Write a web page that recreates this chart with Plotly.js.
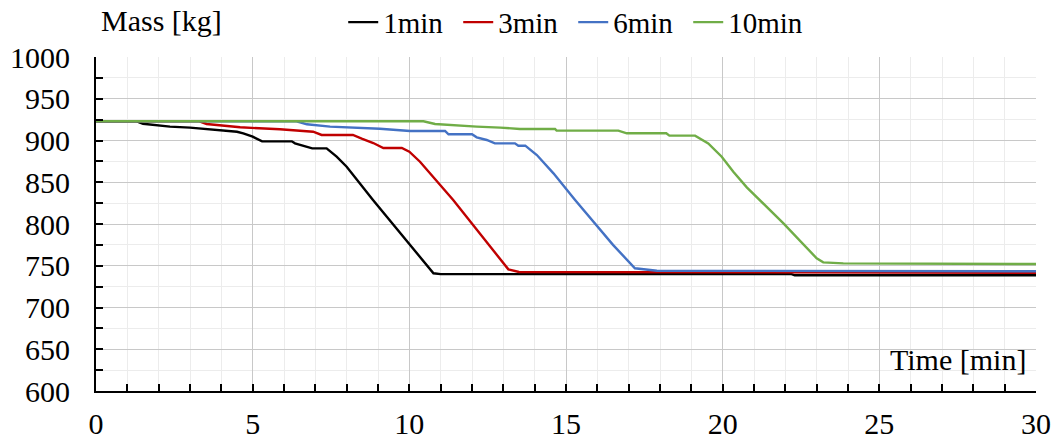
<!DOCTYPE html>
<html>
<head>
<meta charset="utf-8">
<script src="https://cdn.plot.ly/plotly-3.0.1.min.js"></script>
<style>html,body{margin:0;padding:0;background:#fff;}#chart{width:1057px;height:445px;}</style>
</head>
<body>
<div id="chart"></div>
<script>
// Series names
const seriesNames = ["1min", "3min", "6min", "10min"];
// Time [min] and Mass [kg] per series
const t1min = [0, 1.3, 1.5, 2.36, 3.0, 3.96, 4.5, 4.7, 5.0, 5.3, 6.25, 6.35, 6.9, 7.36, 7.68, 8.0, 8.84, 10.77, 11.0, 22.2, 22.3, 30];
const m1min = [923, 923, 920, 916.6, 915.4, 912.6, 910.5, 908.6, 904.6, 899, 899, 896.6, 890.6, 890.6, 880.6, 868.6, 828.7, 741, 740, 740, 738.6, 738.6];
const t3min = [0, 3.3, 3.53, 4.6, 5.87, 6.93, 7.2, 8.2, 8.5, 8.85, 9.17, 9.76, 10.0, 10.34, 11.4, 13.16, 13.5, 20, 30];
const m3min = [923, 923, 919.8, 915.8, 913.4, 910.5, 906.6, 906.6, 902, 897, 891, 891, 886.6, 874.6, 828.7, 745.7, 742.6, 742, 741.6];
const t6min = [0, 6.4, 6.73, 7.47, 9.06, 10.02, 11.14, 11.25, 12.0, 12.15, 12.47, 12.73, 13.37, 13.48, 13.7, 14.07, 14.6, 15.29, 16.5, 17.2, 17.9, 30];
const m6min = [923, 923, 919.4, 916.6, 914, 911.4, 911.4, 907.4, 907.4, 903.8, 900.6, 896.6, 896.6, 893.8, 893.8, 882.6, 860.7, 828.7, 775, 747, 744, 743.4];
const t10min = [0, 10.45, 10.82, 11.62, 12.15, 12.9, 13.53, 14.65, 14.7, 16.67, 16.94, 18.2, 18.3, 19.12, 19.54, 19.97, 20.34, 20.77, 21.19, 21.94, 23.0, 23.21, 23.85, 30];
const m10min = [923, 923, 919.8, 917.4, 916.6, 915.4, 913.8, 913.8, 911.8, 911.8, 908.6, 908.6, 905.8, 905.8, 896.6, 880.6, 862.6, 843.9, 828.7, 800.8, 758.9, 754.1, 752.9, 752.1];
// Axis tick values
const xTicks = [0, 5, 10, 15, 20, 25, 30];
const yTicks = [600, 650, 700, 750, 800, 850, 900, 950, 1000];

const colors = ["#000000", "#C00000", "#4472C4", "#70AD47"];
const xs = [t1min, t3min, t6min, t10min];
const ys = [m1min, m3min, m6min, m10min];

const font = "Liberation Serif";

const traces = seriesNames.map((n, i) => ({
  type: "scatter", mode: "lines", name: n,
  x: xs[i], y: ys[i],
  line: {color: colors[i], width: 2.4},
  hoverinfo: "skip"
}));

const layout = {
  width: 1057, height: 445,
  margin: {l: 96, r: 21, t: 57, b: 54, autoexpand: false},
  paper_bgcolor: "#fff", plot_bgcolor: "#fff",
  font: {family: font, size: 30, color: "#000"},
  showlegend: true,
  legend: {orientation: "h", x: 0.263, y: 0.95, xref: "paper", yref: "container", xanchor: "left", yanchor: "middle",
           font: {family: font, size: 29, color: "#000"}, itemwidth: 30, entrywidth: 70, entrywidthmode: "pixels",
           tracegroupgap: 0, bgcolor: "rgba(0,0,0,0)"},
  xaxis: {
    range: [0, 30], tickvals: xTicks, ticktext: xTicks.map(String),
    showgrid: true, gridcolor: "#c8c8c8", gridwidth: 1,
    ticks: "inside", ticklen: 7, tickwidth: 2, tickcolor: "#000",
    showline: true, linecolor: "#000", linewidth: 2,
    zeroline: false, ticklabelstandoff: 5,
    minor: {dtick: 1, showgrid: true, gridcolor: "#ececec", gridwidth: 1, ticks: "inside", ticklen: 7, tickwidth: 2, tickcolor: "#000"},
    tickfont: {family: font, size: 30, color: "#000"}
  },
  yaxis: {
    range: [600, 1000], tickvals: yTicks, ticktext: yTicks.map(String),
    showgrid: true, gridcolor: "#c8c8c8", gridwidth: 1,
    ticks: "inside", ticklen: 7, tickwidth: 2, tickcolor: "#000",
    showline: true, linecolor: "#000", linewidth: 2,
    zeroline: false, ticklabelstandoff: 18,
    minor: {dtick: 25, showgrid: true, gridcolor: "#ececec", gridwidth: 1, ticks: "inside", ticklen: 7, tickwidth: 2, tickcolor: "#000"},
    tickfont: {family: font, size: 30, color: "#000"}
  },
  annotations: [
    {text: "Mass [kg]", xref: "paper", yref: "paper", x: 0.003, y: 1.11, xanchor: "left", yanchor: "middle",
     showarrow: false, font: {family: font, size: 30, color: "#000"}},
    {text: "Time [min]", xref: "paper", yref: "paper", x: 0.992, y: 0.093, xanchor: "right", yanchor: "middle",
     showarrow: false, font: {family: font, size: 30, color: "#000"}}
  ]
};

Plotly.newPlot("chart", traces, layout, {displayModeBar: false, staticPlot: true});
</script>
</body>
</html>
